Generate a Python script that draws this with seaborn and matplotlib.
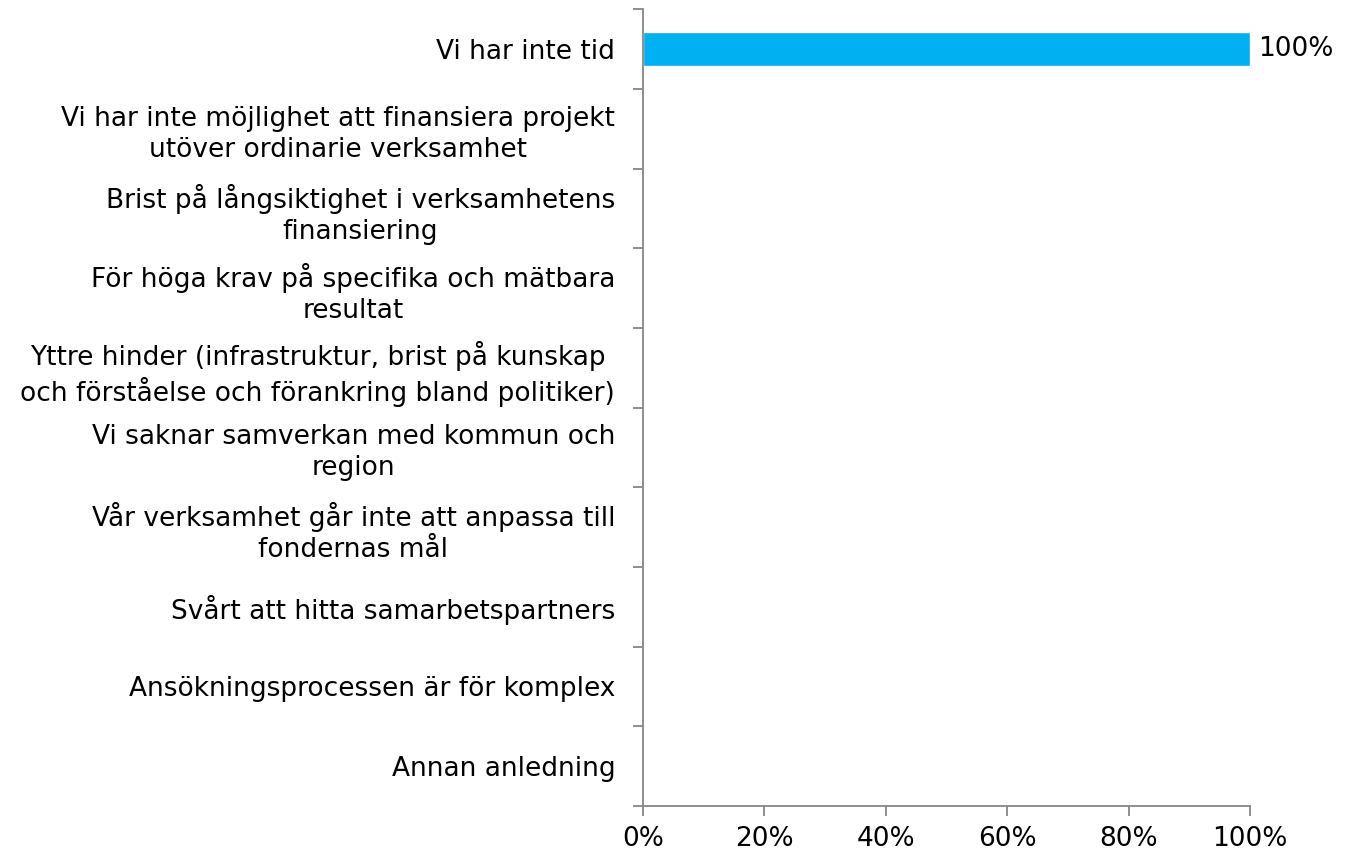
import matplotlib
matplotlib.use("Agg")
import matplotlib.pyplot as plt
import seaborn as sns
import pandas as pd
import numpy as np
from matplotlib.ticker import FixedLocator, PercentFormatter

# --- data ---
categories = [
    "Vi har inte tid",
    "Vi har inte möjlighet att finansiera projekt\nutöver ordinarie verksamhet",
    "Brist på långsiktighet i verksamhetens\nfinansiering",
    "För höga krav på specifika och mätbara\nresultat",
    "Yttre hinder (infrastruktur, brist på kunskap\noch förståelse och förankring bland politiker)",
    "Vi saknar samverkan med kommun och\nregion",
    "Vår verksamhet går inte att anpassa till\nfondernas mål",
    "Svårt att hitta samarbetspartners",
    "Ansökningsprocessen är för komplex",
    "Annan anledning",
]
values = [100, 0, 0, 0, 0, 0, 0, 0, 0, 0]
xticks = [0, 20, 40, 60, 80, 100]

df = pd.DataFrame({"kategori": categories, "andel": values})

sns.set_theme(style="white")
plt.rcParams["font.family"] = ["DejaVu Sans"]

fs = 19
fig = plt.figure(figsize=(13.55, 8.51), dpi=100)
ax = fig.add_axes([0.4745, 0.053, 0.448, 0.936])

sns.barplot(data=df, x="andel", y="kategori", orient="h", color="#00B0F0",
            saturation=1, width=0.42, ax=ax)

ax.set_xlim(0, 100)
ax.set_ylim(len(categories) - 0.5, -0.5)
ax.set_xlabel("")
ax.set_ylabel("")

grey = "#868686"
for side in ["top", "right"]:
    ax.spines[side].set_visible(False)
for side in ["left", "bottom"]:
    ax.spines[side].set_color(grey)
    ax.spines[side].set_linewidth(1.3)

ax.xaxis.set_major_locator(FixedLocator(xticks))
ax.xaxis.set_major_formatter(PercentFormatter(decimals=0))
ax.tick_params(axis="x", which="major", length=7, width=1.3, color=grey,
               labelsize=fs, labelcolor="black", pad=7.5, direction="out", bottom=True)

# category labels without tick marks, tick marks at category boundaries
ax.tick_params(axis="y", which="major", length=0, labelsize=fs, labelcolor="black", pad=20)
ax.yaxis.set_minor_locator(FixedLocator(np.arange(-0.5, len(categories) + 0.5, 1.0)))
ax.tick_params(axis="y", which="minor", length=7, width=1.3, color=grey, left=True)
for lab in ax.get_yticklabels():
    lab.set_multialignment("center")
    lab.set_linespacing(1.25)

for i, v in enumerate(values):
    if v > 0:
        ax.text(v + 1.4, i, f"{v}%", va="center", ha="left", fontsize=fs, color="black")

fig.savefig("out.png", dpi=100)
